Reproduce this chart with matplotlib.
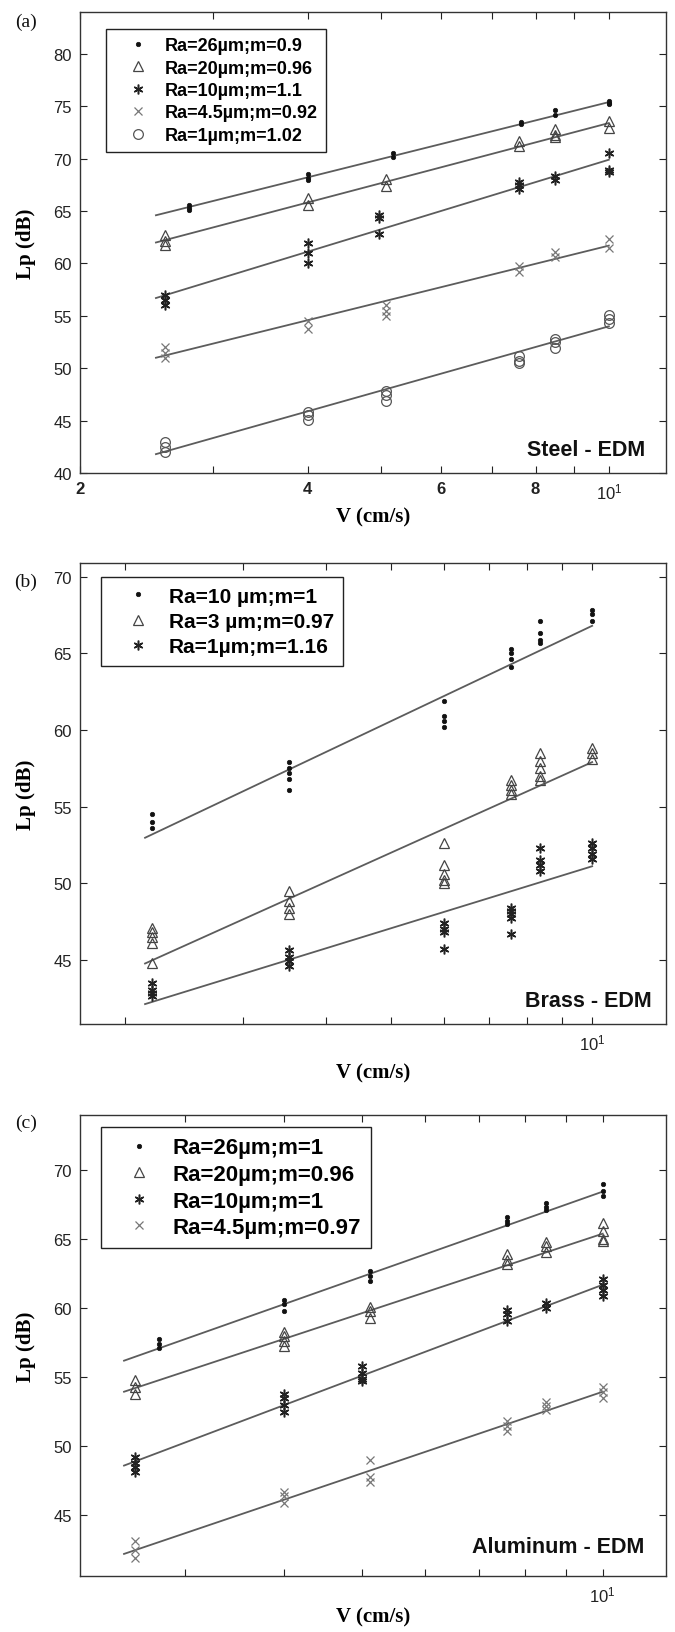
import matplotlib
matplotlib.use('Agg')
import matplotlib.pyplot as plt
from matplotlib.ticker import NullLocator

plt.rcParams['font.family'] = ['Liberation Sans', 'DejaVu Sans']
plt.rcParams['mathtext.default'] = 'regular'

# ---------------- Panel (a): Steel - EDM ----------------
A_LABELS = ['Ra=26µm;m=0.9', 'Ra=20µm;m=0.96', 'Ra=10µm;m=1.1', 'Ra=4.5µm;m=0.92', 'Ra=1µm;m=1.02']
A_FIT_V = [2.52, 10.0]

A_RA26_V = [2.79, 4.0, 5.18, 7.65, 8.5, 10.0]
A_RA26_LP = [[65.6, 65.3, 65.1], [68.5, 68.2, 68.0], [70.5, 70.2], [73.5, 73.3], [74.6, 74.2], [75.5, 75.3, 75.2]]
A_RA26_FIT = [64.6, 75.4]

A_RA20_V = [2.59, 4.0, 5.07, 7.6, 8.5, 10.0]
A_RA20_LP = [[62.7, 62.1, 61.8], [66.2, 65.6], [68.1, 67.4], [71.7, 71.2], [72.8, 72.3, 72.1], [73.6, 72.9]]
A_RA20_FIT = [62.0, 73.4]

A_RA10_V = [2.59, 4.0, 4.97, 7.6, 8.5, 10.0]
A_RA10_LP = [[57.0, 56.5, 56.0], [62.0, 61.0, 60.0], [64.6, 64.3, 62.8], [67.8, 67.5, 67.1], [68.3, 68.0], [70.5, 68.9, 68.7]]
A_RA10_FIT = [56.7, 69.9]

A_RA45_V = [2.59, 4.0, 5.07, 7.6, 8.5, 10.0]
A_RA45_LP = [[52.0, 51.5, 51.0], [54.5, 53.7], [56.0, 55.5, 55.0], [59.8, 59.2], [61.1, 60.6], [62.3, 61.5]]
A_RA45_FIT = [51.0, 61.7]

A_RA1_V = [2.59, 4.0, 5.07, 7.6, 8.5, 10.0]
A_RA1_LP = [[43.0, 42.5, 42.0], [45.8, 45.5, 45.1], [47.8, 47.4, 46.9], [51.2, 50.7, 50.5], [52.8, 52.5, 51.9], [55.1, 54.7, 54.3]]
A_RA1_FIT = [41.8, 54.0]

# ---------------- Panel (b): Brass - EDM ----------------
B_LABELS = ['Ra=10 µm;m=1', 'Ra=3 µm;m=0.97', 'Ra=1µm;m=1.16']
B_FIT_V = [2.14, 10.0]

B_RA10_V = [2.19, 3.51, 6.0, 7.55, 8.36, 10.0]
B_RA10_LP = [[54.5, 54.0, 53.6], [57.9, 57.5, 57.2, 56.8, 56.1], [61.9, 60.9, 60.6, 60.2],
             [65.3, 65.0, 64.6, 64.1], [67.1, 66.3, 65.9, 65.7], [67.8, 67.6, 67.1]]
B_RA10_FIT = [52.96, 66.8]

B_RA3_V = [2.19, 3.51, 6.0, 7.55, 8.36, 10.0]
B_RA3_LP = [[47.1, 46.8, 46.5, 46.1, 44.8], [49.5, 48.8, 48.4, 48.0], [52.6, 51.2, 50.6, 50.2, 50.0],
            [56.7, 56.4, 56.1, 55.8], [58.5, 58.0, 57.5, 57.0, 56.7], [58.8, 58.5, 58.1]]
B_RA3_FIT = [44.75, 57.9]

B_RA1_V = [2.19, 3.51, 6.0, 7.55, 8.36, 10.0]
B_RA1_LP = [[43.5, 43.0, 42.8, 42.6], [45.6, 45.2, 44.9, 44.6], [47.4, 47.0, 46.8, 45.7],
            [48.4, 48.2, 48.0, 47.7, 46.7], [52.3, 51.5, 51.2, 50.8], [52.6, 52.3, 51.9, 51.6]]
B_RA1_FIT = [42.1, 51.1]

# ---------------- Panel (c): Aluminum - EDM ----------------
C_LABELS = ['Ra=26µm;m=1', 'Ra=20µm;m=0.96', 'Ra=10µm;m=1', 'Ra=4.5µm;m=0.97']
C_FIT_V = [2.52, 10.0]

C_RA26_V = [2.79, 4.0, 5.12, 7.6, 8.5, 10.0]
C_RA26_LP = [[57.8, 57.4, 57.1], [60.6, 60.3, 59.8], [62.7, 62.3, 62.0], [66.6, 66.3, 66.1], [67.6, 67.3, 67.1], [69.0, 68.5, 68.1]]
C_RA26_FIT = [56.2, 68.45]

C_RA20_V = [2.6, 4.0, 5.12, 7.6, 8.5, 10.0]
C_RA20_LP = [[54.8, 54.3, 53.8], [58.3, 58.0, 57.6, 57.3], [60.1, 59.8, 59.3], [63.9, 63.5, 63.2], [64.8, 64.5, 64.1], [66.2, 65.6, 65.0, 64.9]]
C_RA20_FIT = [53.95, 65.4]

C_RA10_V = [2.6, 4.0, 5.0, 7.6, 8.5, 10.0]
C_RA10_LP = [[49.2, 48.8, 48.5, 48.1], [53.8, 53.5, 53.0, 52.5], [55.8, 55.3, 54.9, 54.7], [59.9, 59.6, 59.1], [60.4, 60.0], [62.1, 61.7, 61.3, 60.9]]
C_RA10_FIT = [48.6, 61.7]

C_RA45_V = [2.6, 4.0, 5.12, 7.6, 8.5, 10.0]
C_RA45_LP = [[43.1, 42.5, 41.9], [46.7, 46.4, 45.9], [49.0, 47.8, 47.4], [51.8, 51.5, 51.1], [53.2, 52.9, 52.6], [54.3, 53.9, 53.5]]
C_RA45_FIT = [42.2, 53.95]

# marker styles
STY_DOT = dict(marker='o', ms=3.2, mfc='#111111', mec='#111111', mew=0.5)
STY_TRI = dict(marker='^', ms=7, mfc='none', mec='#444444', mew=0.9)
STY_AST = dict(marker=(6, 2, 0), ms=7, mfc='#222222', mec='#222222', mew=1.1)
STY_X = dict(marker='x', ms=5.5, mfc='#777777', mec='#777777', mew=0.9)
STY_O = dict(marker='o', ms=7, mfc='none', mec='#555555', mew=0.9)

FIG_W, FIG_H = 675, 1633
fig = plt.figure(figsize=(FIG_W / 100, FIG_H / 100), dpi=100)


def make_axes(top_px, bottom_px, left_px=80, right_px=666):
    return fig.add_axes([left_px / FIG_W, 1 - bottom_px / FIG_H,
                         (right_px - left_px) / FIG_W, (bottom_px - top_px) / FIG_H])


def expand(vs, lps):
    xs, ys = [], []
    for v, grp in zip(vs, lps):
        for y in grp:
            xs.append(v)
            ys.append(y)
    return xs, ys


def draw_panel(ax, series, fit_v, labels, xlim, ylim, yticks, xticks, xticklabels, bold_x,
               title, title_pos, legend_anchor, legend_fs, legend_ls, xlabel_y):
    ax.set_xscale('log')
    for (vs, lps, fit, sty) in series:
        ax.plot(fit_v, fit, color='#5c5c5c', lw=1.3, zorder=2)
    handles = []
    for (vs, lps, fit, sty), lab in zip(series, labels):
        xs, ys = expand(vs, lps)
        h, = ax.plot(xs, ys, ls='none', label=lab, zorder=3, **sty)
        handles.append(h)
    ax.set_xlim(*xlim)
    ax.set_ylim(*ylim)
    ax.set_yticks(yticks)
    ax.set_yticklabels([str(t) for t in yticks])
    ax.set_xticks(xticks)
    lbls = ax.set_xticklabels(xticklabels)
    for lb, txt in zip(lbls, xticklabels):
        if txt in bold_x:
            lb.set_fontweight('bold')
    ax.xaxis.set_minor_locator(NullLocator())
    ax.tick_params(axis='both', which='both', direction='in', length=5, width=0.8,
                   top=True, right=True, labelsize=12, pad=6, colors='#222222')
    for sp in ax.spines.values():
        sp.set_color('#333333')
        sp.set_linewidth(1.0)
    leg = ax.legend(handles=handles, loc='upper left', bbox_to_anchor=legend_anchor,
                    borderaxespad=0, fontsize=legend_fs, prop=dict(weight='bold', size=legend_fs),
                    frameon=True, fancybox=False, framealpha=1, edgecolor='#222222',
                    handlelength=2.6, handletextpad=0.2, labelspacing=legend_ls,
                    borderpad=0.45, numpoints=1)
    leg.get_frame().set_linewidth(1.0)
    ax.set_ylabel('Lp (dB)', family='Liberation Serif', fontweight='bold', fontsize=15, va='center')
    ax.yaxis.set_label_coords(-0.092, 0.5)
    ax.set_xlabel('V (cm/s)', family='Liberation Serif', fontweight='bold', fontsize=15, va='center')
    ax.xaxis.set_label_coords(0.5, xlabel_y)
    ax.text(title_pos[0], title_pos[1], title, transform=ax.transAxes, ha='right', va='center',
            fontweight='bold', fontsize=15.5, color='#111111')


# ---- (a)
ax_a = make_axes(13, 474)
draw_panel(ax_a,
           [(A_RA26_V, A_RA26_LP, A_RA26_FIT, STY_DOT),
            (A_RA20_V, A_RA20_LP, A_RA20_FIT, STY_TRI),
            (A_RA10_V, A_RA10_LP, A_RA10_FIT, STY_AST),
            (A_RA45_V, A_RA45_LP, A_RA45_FIT, STY_X),
            (A_RA1_V, A_RA1_LP, A_RA1_FIT, STY_O)],
           A_FIT_V, A_LABELS, (2.0, 11.9), (40, 84), [40, 45, 50, 55, 60, 65, 70, 75, 80],
           [2, 3, 4, 5, 6, 7, 8, 9, 10], ['2', '', '4', '', '6', '', '8', '', '$10^1$'],
           ['2', '4', '6', '8'], 'Steel - EDM', (0.965, 0.05), (0.045, 0.963), 13, 0.3, -0.095)

# ---- (b)
ax_b = make_axes(564, 1025)
draw_panel(ax_b,
           [(B_RA10_V, B_RA10_LP, B_RA10_FIT, STY_DOT),
            (B_RA3_V, B_RA3_LP, B_RA3_FIT, STY_TRI),
            (B_RA1_V, B_RA1_LP, B_RA1_FIT, STY_AST)],
           B_FIT_V, B_LABELS, (1.71, 12.9), (40.8, 70.9), [45, 50, 55, 60, 65, 70],
           [2, 3, 4, 5, 6, 7, 8, 9, 10], ['', '', '', '', '', '', '', '', '$10^1$'],
           [], 'Brass - EDM', (0.976, 0.052), (0.036, 0.969), 15, 0.3, -0.106)

# ---- (c)
ax_c = make_axes(1116, 1577)
draw_panel(ax_c,
           [(C_RA26_V, C_RA26_LP, C_RA26_FIT, STY_DOT),
            (C_RA20_V, C_RA20_LP, C_RA20_FIT, STY_TRI),
            (C_RA10_V, C_RA10_LP, C_RA10_FIT, STY_AST),
            (C_RA45_V, C_RA45_LP, C_RA45_FIT, STY_X)],
           C_FIT_V, C_LABELS, (2.22, 12.0), (40.6, 74.0), [45, 50, 55, 60, 65, 70],
           [3, 4, 5, 6, 7, 8, 9, 10], ['', '', '', '', '', '', '', '$10^1$'],
           [], 'Aluminum - EDM', (0.963, 0.064), (0.035, 0.973), 16, 0.25, -0.087)

# panel letters
for lab, ypx in [('(a)', 22), ('(b)', 582), ('(c)', 1123)]:
    fig.text(26 / FIG_W, 1 - ypx / FIG_H, lab, family='Liberation Serif', fontsize=14,
             ha='center', va='center', color='#111111')

fig.savefig('out.png', dpi=100, facecolor='white')
